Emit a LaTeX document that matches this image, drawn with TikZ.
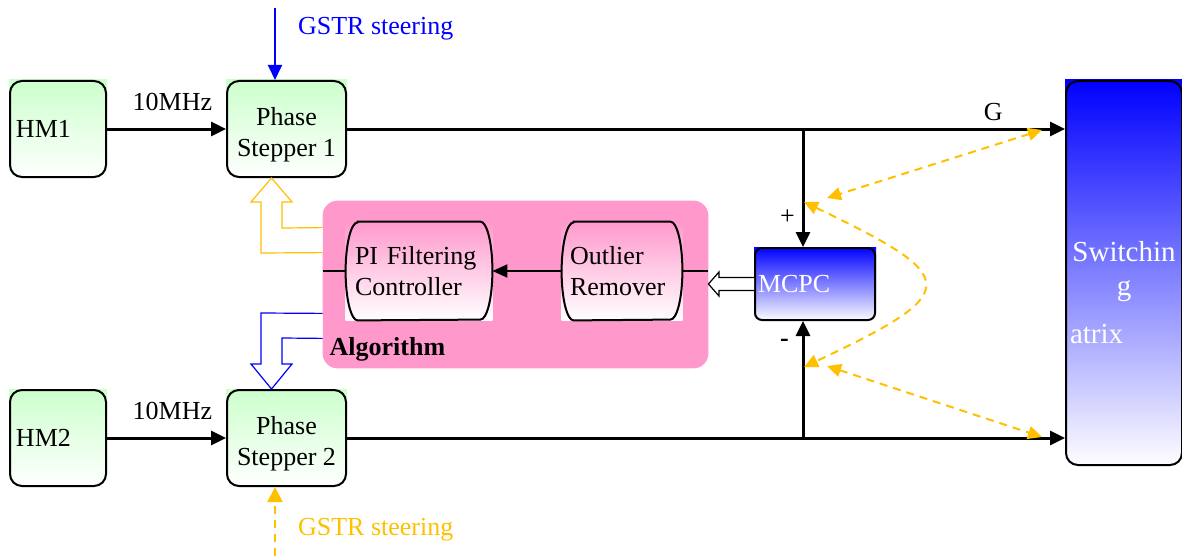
\documentclass[tikz,border=0pt]{standalone}
\usepackage{fontspec}
\setmainfont{Liberation Serif}
\usepackage{tikz}
\usetikzlibrary{arrows.meta, positioning, calc, backgrounds}
\definecolor{mmgreen}{HTML}{CCFFCC}
\definecolor{mmblue}{HTML}{0000FF}
\definecolor{mmpink}{HTML}{FF99CC}
\definecolor{mmyellow}{HTML}{FFC000}

\tikzset{
  block/.style={draw, line width=1pt, rounded corners=6pt, inner sep=0pt, align=center},
  stage/.style={minimum height=49pt, inner ysep=0pt, align=left},
  conn/.style={line width=1.5pt, -{Triangle[length=7.5pt,width=7pt]}},
  flow/.style={line width=1pt, -{Triangle[length=7.5pt,width=6.5pt]}},
  link/.style={line width=1pt, mmyellow, dash pattern=on 4pt off 3pt,
    {Triangle[length=7pt,width=6.5pt]}-{Triangle[length=7pt,width=6.5pt]}},
  hollow/.style={line width=0.6pt, fill=white, line join=miter}
}

\begin{document}
\begin{tikzpicture}[x=0.5pt, y=-0.5pt, font=\fontsize{13}{15.5}\selectfont]
  \useasboundingbox (0,0) rectangle (1182,556);

  % Masters and phase steppers
  \foreach \i/\y in {1/129, 2/438} {
    \node[block, minimum width=48pt, minimum height=48pt, text width=42pt, align=left] (hm\i) at (58,\y) {HM\i};
    \node[block, minimum width=59.5pt, minimum height=48pt] (ps\i) at (286.5,\y) {\rule{0pt}{15pt}Phase\\Stepper \i};
    \draw[conn] (hm\i) -- node[above=5pt, pos=0.55] {10MHz} (ps\i);
  }

  % Algorithm
  \node[minimum width=192.5pt, minimum height=83.5pt,
    label={[anchor=south west, font=\fontsize{13}{15.5}\selectfont\bfseries]south west:Algorithm}] (alg) at (515.5,284.5) {};
  \node[stage, text width=64pt, inner xsep=4.5pt] (pifilter) at (419,271) {PI Filtering\\Controller};
  \node[stage, text width=52pt, inner xsep=4pt] (outlier) at (622,271) {Outlier\\Remover};
  \foreach \n in {pifilter, outlier}
    \draw[line width=1pt] ($(\n.north west)+(12,0)$) -- ($(\n.north east)+(-12,0)$)
      arc[start angle=90, end angle=-90, x radius=6pt, y radius=24.5pt]
      -- ($(\n.south west)+(12,0)$)
      arc[start angle=270, end angle=90, x radius=6pt, y radius=24.5pt] -- cycle;
  \draw[line width=1pt] (pifilter.west -| alg.west) -- (pifilter.west);
  \draw[flow] (outlier) -- (pifilter);
  \draw[line width=1pt] (outlier.east) -- (outlier.east -| alg.east);

  % MCPC and switching matrix
  \node[block, rounded corners=3.5pt, minimum width=60pt, minimum height=36pt, text width=57pt,
    align=left, text=white] (mcpc) at (815,284) {MCPC};
  \node[block, minimum width=58pt, minimum height=192pt] (sw) at (1124,273) {};
  \node[text=white, font=\fontsize{14.5}{17}\selectfont, text width=54pt, align=center, inner sep=0pt]
    (swtext) at ($(sw.center)+(0,20)$) {Switchin\\g\\[7pt]\makebox[\linewidth][l]{atrix}};

  % Gradients behind the boxes
  \begin{scope}[on background layer]
    \fill[mmpink, rounded corners=7.5pt] (alg.south west) rectangle (alg.north east);
    \foreach \n/\c in {hm1/mmgreen, ps1/mmgreen, hm2/mmgreen, ps2/mmgreen,
                       mcpc/mmblue, sw/mmblue, pifilter/mmpink, outlier/mmpink}
      \shade[top color=\c, bottom color=white] (\n.south west) rectangle (\n.north east);
  \end{scope}

  % Signal lines
  \coordinate (tapG) at (803,129);
  \coordinate (tapB) at (803,438);
  \draw[conn] (ps1.east) -- node[above, pos=0.9] {G} (ps1.east -| sw.west);
  \draw[conn] (ps2.east) -- (ps2.east -| sw.west);
  \draw[conn] (tapG) -- node[left, pos=0.75] {+} (tapG |- mcpc.north);
  \draw[conn] (tapB) -- node[left=3pt, pos=0.81, font=\fontsize{13}{15.5}\selectfont\bfseries] {-} (tapB |- mcpc.south);

  % Hollow arrows
  \draw[hollow] ($(mcpc.west)+(0,-6.5)$) -- ++(-35,0) -- ++(0,-5.5) -- (alg.east |- mcpc.west)
    -- ($(mcpc.west)+(-35,12)$) -- ++(0,-5.5) -- ($(mcpc.west)+(0,6.5)$);
  \draw[hollow, draw=mmyellow] ($(alg.north west)+(0,27)$) -- (282,228) -- (282,202) -- (292,202)
    -- ($(ps1.south)+(-15,0)$) -- (251,202) -- (261,202) -- (261,253) -- ($(alg.north west)+(0,52)$);
  \draw[hollow, draw=mmblue] ($(alg.south west)+(0,-55)$) -- (261,313) -- (261,364) -- (251,364)
    -- ($(ps2.north)+(-15,0)$) -- (292,364) -- (282,364) -- (282,338) -- ($(alg.south west)+(0,-30)$);

  % GSTR steering
  \coordinate (gstrIn) at (275,8);
  \coordinate (gstrOut) at (275,556);
  \draw[line width=1pt, mmblue, -{Triangle[length=7.5pt,width=7pt]}] (gstrIn) -- (gstrIn |- ps1.north);
  \draw[line width=1pt, mmyellow, dash pattern=on 4pt off 3pt, -{Triangle[length=7.5pt,width=7.5pt]}]
    (gstrOut) -- (gstrOut |- ps2.south);
  \node[anchor=west, text=mmblue] (gstrTop) at (291,29) {GSTR steering};
  \node[anchor=west, text=mmyellow] (gstrBot) at (291,530) {GSTR steering};

  % Switching links
  \coordinate (dG) at (1042,130);
  \coordinate (dP) at (827,198);
  \coordinate (dP2) at (804,202);
  \coordinate (dM2) at (804,367);
  \coordinate (dM) at (827,366);
  \coordinate (dB) at (1042,437);
  \draw[link] (dG) -- (dP);
  \draw[link] (dP2) .. controls (963,278) and (963,292) .. (dM2);
  \draw[link] (dM) -- (dB);
\end{tikzpicture}
\end{document}
